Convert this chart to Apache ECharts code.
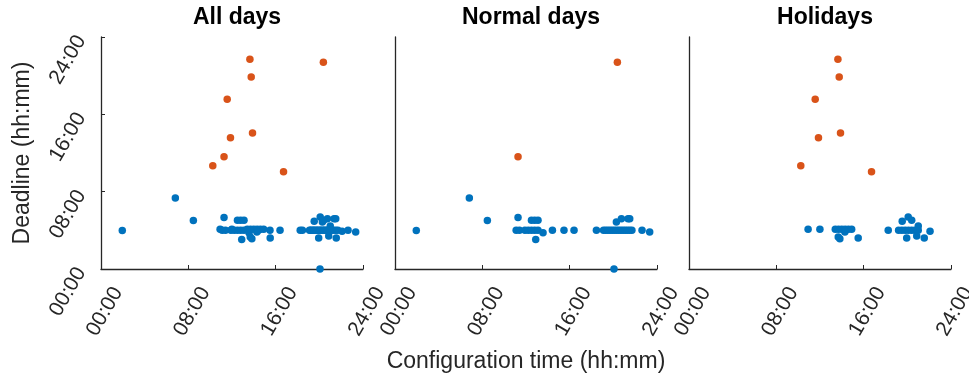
<!DOCTYPE html>
<html><head><meta charset="utf-8">
<script src="https://cdn.jsdelivr.net/npm/echarts@6/dist/echarts.min.js"></script>
<style>html,body{margin:0;padding:0;background:#fff}#c{width:969px;height:374px}</style>
</head><body><div id="c"></div>
<script>
// Times in hours (0-24)
const panelTitles = ["All days", "Normal days", "Holidays"];
const tickHours = [0, 8, 16, 24];
const xAxisTitle = "Configuration time (hh:mm)";
const yAxisTitle = "Deadline (hh:mm)";

// Normal days - met deadline (blue)
const normalBlueX = [1.95, 6.81, 8.46, 11.27, 12.5, 12.8, 13.1, 11.1, 11.4, 11.9, 12.2, 12.5, 12.8, 13.1, 13.56, 12.89, 14.42, 15.48, 16.40, 18.45,
  19.1, 19.3, 19.5, 19.7, 19.9, 20.1, 20.3, 20.5, 20.7, 20.9, 21.1, 21.3, 21.5, 21.7, 20.28, 20.74, 21.35, 21.5, 22.63, 23.33, 20.06];
const normalBlueY = [3.97, 7.34, 5.03, 5.32, 5.04, 5.04, 5.04, 4.0, 4.0, 4.0, 4.0, 4.0, 4.0, 4.0, 3.76, 3.04, 4.0, 4.0, 4.0, 4.0,
  4.0, 4.0, 4.0, 4.0, 4.0, 4.0, 4.0, 4.0, 4.0, 4.0, 4.0, 4.0, 4.0, 4.0, 4.86, 5.21, 5.21, 5.21, 4.0, 3.83, 0.0];
// Normal days - orange
const normalOrangeX = [11.27, 20.37];
const normalOrangeY = [11.62, 21.38];

// Holidays - blue
const holidayBlueX = [10.91, 11.99, 13.4, 13.7, 14.0, 14.3, 14.6, 14.9, 13.67, 13.82, 14.28, 15.5, 18.25,
  19.2, 19.5, 19.8, 20.1, 20.4, 20.7, 21.0, 19.53, 20.08, 20.4, 21.0, 19.94, 20.86, 21.55, 22.08];
const holidayBlueY = [4.1, 4.1, 4.1, 4.1, 4.1, 4.1, 4.1, 4.1, 3.31, 3.14, 3.83, 3.21, 4.0,
  4.0, 4.0, 4.0, 4.0, 4.0, 4.0, 4.0, 4.93, 5.38, 5.04, 4.45, 3.21, 3.41, 3.21, 3.9];
// Holidays - orange
const holidayOrangeX = [13.64, 13.76, 11.56, 11.86, 13.88, 10.24, 16.72];
const holidayOrangeY = [21.69, 19.86, 17.55, 13.59, 14.07, 10.69, 10.07];

const BLUE = '#0072BD', ORANGE = '#D95319', AX = '#262626';
const zip = (xs, ys) => xs.map((x, i) => [x, ys[i]]);
const fmt = v => (v < 10 ? '0' : '') + Math.round(v) + ':00';

const panels = [
  { blue: zip(normalBlueX, normalBlueY).concat(zip(holidayBlueX, holidayBlueY)),
    orange: zip(normalOrangeX, normalOrangeY).concat(zip(holidayOrangeX, holidayOrangeY)) },
  { blue: zip(normalBlueX, normalBlueY), orange: zip(normalOrangeX, normalOrangeY) },
  { blue: zip(holidayBlueX, holidayBlueY), orange: zip(holidayOrangeX, holidayOrangeY) }
];
const lefts = [101, 395, 689];
const W = 262, TOP = 37, H = 232;
const FONT = 'Liberation Sans';

const grids = [], xAxes = [], yAxes = [], series = [], titles = [];
lefts.forEach((l, i) => {
  grids.push({ left: l, top: TOP, width: W, height: H, containLabel: false, outerBoundsMode: 'none' });
  titles.push({ text: panelTitles[i], left: l + W / 2, top: 1, textAlign: 'center',
    textStyle: { fontFamily: FONT, fontWeight: 'bold', fontSize: 23, color: '#000' } });
  xAxes.push({
    type: 'value', gridIndex: i, min: 0, max: 24, interval: 8,
    splitLine: { show: false },
    axisLine: { show: true, onZero: false, lineStyle: { color: AX, width: 1.3 } },
    axisTick: { show: true, inside: true, length: 4, lineStyle: { color: AX } },
    axisLabel: { rotate: 60, margin: 10, fontSize: 21, fontFamily: FONT, color: AX, hideOverlap: false,
      formatter: v => '{a|' + fmt(v) + '}', rich: { a: { fontSize: 21, fontFamily: FONT, color: AX, padding: [39, 0, 0, 0] } } },
    name: i === 1 ? xAxisTitle : '', nameLocation: 'middle', nameGap: 81,
    nameTextStyle: { fontSize: 23, fontFamily: FONT, color: AX }
  });
  yAxes.push({
    type: 'value', gridIndex: i, min: 0, max: 24, interval: 8,
    splitLine: { show: false },
    axisLine: { show: true, onZero: false, lineStyle: { color: AX, width: 1.3 } },
    axisTick: { show: i === 0, inside: true, length: 4, lineStyle: { color: AX } },
    axisLabel: { show: i === 0, rotate: 60, margin: 20, fontSize: 21, fontFamily: FONT, color: AX, formatter: fmt },
    name: i === 0 ? yAxisTitle : '', nameLocation: 'middle', nameGap: 67, nameRotate: 90,
    nameTextStyle: { fontSize: 23, fontFamily: FONT, color: AX }
  });
  series.push({ type: 'scatter', xAxisIndex: i, yAxisIndex: i, data: panels[i].blue, symbolSize: 7.5,
    itemStyle: { color: BLUE, opacity: 1 }, clip: false, silent: true });
  series.push({ type: 'scatter', xAxisIndex: i, yAxisIndex: i, data: panels[i].orange, symbolSize: 7.5,
    itemStyle: { color: ORANGE, opacity: 1 }, clip: false, silent: true });
});

const chart = echarts.init(document.getElementById('c'), null, { renderer: 'canvas' });
chart.setOption({ animation: false, backgroundColor: '#fff', title: titles, grid: grids, xAxis: xAxes, yAxis: yAxes, series: series });
</script></body></html>
